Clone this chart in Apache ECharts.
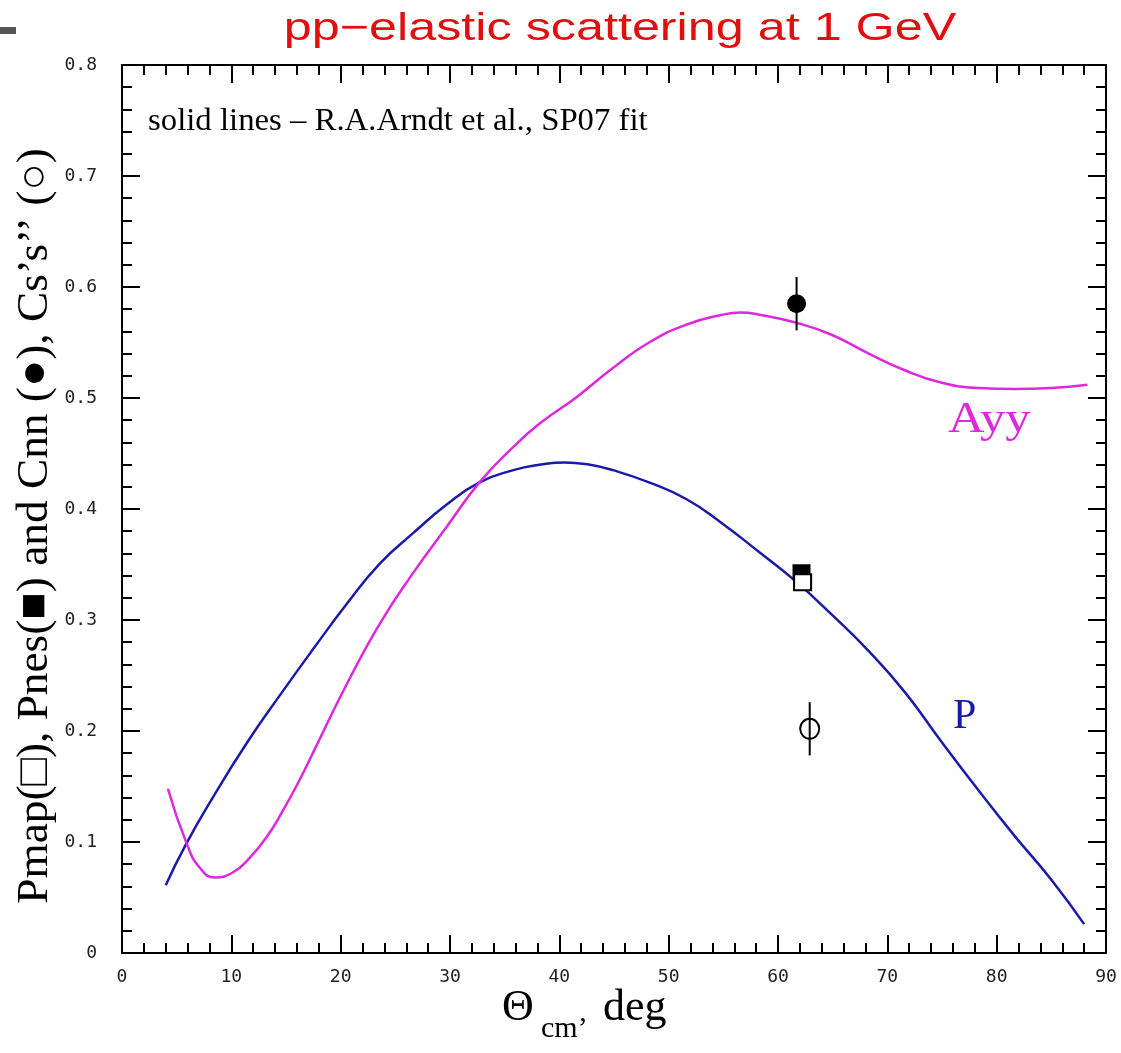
<!DOCTYPE html>
<html>
<head>
<meta charset="utf-8">
<title>pp-elastic scattering at 1 GeV</title>
<script src="https://cdn.jsdelivr.net/npm/echarts@6.0.0/dist/echarts.min.js"></script>
<style>
  html, body { margin: 0; padding: 0; background: #fff; }
  #chart { width: 1121px; height: 1053px; }
</style>
</head>
<body>
<div id="chart"></div>
<script>
// SP07 fit curves (theta_cm in deg)
const thetaP = [4.0, 5.8, 8.3, 11.4, 14.5, 17.5, 20.6, 23.6, 26.6, 29.7, 32.7, 35.8, 38.3, 40.5, 42.7,
  44.9, 48.2, 51.6, 54.9, 58.3, 61.6, 64.9, 68.3, 71.6, 74.9, 78.3, 81.6, 85.0, 88.0];
const valP = [0.061, 0.097, 0.140, 0.189, 0.233, 0.274, 0.315, 0.351, 0.378, 0.404, 0.424, 0.435, 0.440, 0.442, 0.440,
  0.435, 0.424, 0.409, 0.387, 0.361, 0.335, 0.305, 0.272, 0.235, 0.191, 0.147, 0.106, 0.066, 0.026];

const thetaAyy = [4.2, 5.9, 7.1, 8.5, 10.2, 11.7, 13.2, 14.7, 16.3, 17.5, 20.6, 23.6, 26.6, 29.7, 32.7,
  35.8, 38.2, 41.6, 44.9, 48.2, 51.6, 54.9, 56.6, 58.3, 61.6, 64.9, 68.3, 71.6, 74.9, 78.3, 81.6, 85.0, 88.3];
const valAyy = [0.148, 0.099, 0.077, 0.068, 0.073, 0.086, 0.104, 0.128, 0.157, 0.181, 0.243, 0.297, 0.342, 0.384, 0.424,
  0.456, 0.477, 0.501, 0.527, 0.550, 0.566, 0.575, 0.577, 0.575, 0.568, 0.557, 0.540, 0.525, 0.514, 0.509, 0.508, 0.509, 0.512];

// measured points: [theta, value, error]
const cnnPoint = [61.7, 0.585, 0.024];
const pnesPoint = [62.15, 0.343, 0];
const pmapPoint = [62.25, 0.334, 0];
const cssPoint = [62.9, 0.202, 0.024];

const xTicks = [0, 90, 10];
const yTicks = [0, 0.8, 0.1];

const pairs = (xs, ys) => xs.map((x, i) => [x, ys[i]]);

const AXIS_LINE = { lineStyle: { color: "#000", width: 2 } };
const AXIS_TICK = { inside: true, length: 18, lineStyle: { color: "#000", width: 2 } };
const MINOR_TICK = { show: true, splitNumber: 5, length: 10, lineStyle: { color: "#000", width: 2 } };
const TICK_FONT = { fontFamily: "DejaVu Sans Mono", fontSize: 18, color: "#222" };

const chart = echarts.init(document.getElementById("chart"));

const axisBase = (isX, position, showLabels) => ({
  type: "value",
  position: position,
  min: isX ? xTicks[0] : yTicks[0],
  max: isX ? xTicks[1] : yTicks[1],
  interval: isX ? xTicks[2] : yTicks[2],
  axisLine: { show: true, onZero: false, ...AXIS_LINE },
  axisTick: AXIS_TICK,
  minorTick: MINOR_TICK,
  splitLine: { show: false },
  axisLabel: {
    show: showLabels,
    margin: isX ? 15 : 25,
    ...TICK_FONT,
    formatter: (v) => (isX ? String(Math.round(v)) : v === 0 ? "0" : v.toFixed(1)),
  },
});

const errorBars = [cnnPoint, cssPoint].map((p) => [p[0], p[1] - p[2], p[1] + p[2]]);

const options = {
  backgroundColor: "#fff",
  animation: false,
  grid: { left: 122, top: 65, width: 984, height: 888 },
  xAxis: [axisBase(true, "bottom", true), axisBase(true, "top", false)],
  yAxis: [axisBase(false, "left", true), axisBase(false, "right", false)],
  series: [
    {
      name: "P",
      type: "line",
      data: pairs(thetaP, valP),
      smooth: 0.5,
      showSymbol: false,
      lineStyle: { color: "#1a1aaa", width: 2.5 },
      z: 2,
    },
    {
      name: "Ayy",
      type: "line",
      data: pairs(thetaAyy, valAyy),
      smooth: 0.5,
      showSymbol: false,
      lineStyle: { color: "#dd28dd", width: 2.5 },
      z: 2,
    },
    {
      name: "errors",
      type: "custom",
      data: errorBars,
      renderItem: (params, api) => {
        const p1 = api.coord([api.value(0), api.value(1)]);
        const p2 = api.coord([api.value(0), api.value(2)]);
        return {
          type: "line",
          shape: { x1: p1[0], y1: p1[1], x2: p2[0], y2: p2[1] },
          style: { stroke: "#000", lineWidth: 2 },
        };
      },
      z: 3,
    },
    {
      name: "Cnn",
      type: "scatter",
      data: [cnnPoint.slice(0, 2)],
      symbol: "circle",
      symbolSize: 19,
      itemStyle: { color: "#000", opacity: 1 },
      z: 4,
    },
    {
      name: "Pnes",
      type: "scatter",
      data: [pnesPoint.slice(0, 2)],
      symbol: "rect",
      symbolSize: [18, 16],
      itemStyle: { color: "#000", opacity: 1 },
      z: 4,
    },
    {
      name: "Pmap",
      type: "scatter",
      data: [pmapPoint.slice(0, 2)],
      symbol: "rect",
      symbolSize: [17, 16],
      itemStyle: { color: "#fff", borderColor: "#000", borderWidth: 2, opacity: 1 },
      z: 5,
    },
    {
      name: "Cs's''",
      type: "scatter",
      data: [cssPoint.slice(0, 2)],
      symbol: "circle",
      symbolSize: [19, 20],
      itemStyle: { color: "transparent", borderColor: "#000", borderWidth: 2, opacity: 1 },
      z: 4,
    },
  ],
  graphic: [
    { type: "rect", shape: { x: 0, y: 27, width: 16, height: 7 }, style: { fill: "#555" } },
    {
      type: "text",
      x: 620,
      y: 29.5,
      scaleX: 1.29,
      style: {
        text: "pp\u2212elastic scattering at 1 GeV",
        font: '39px "Liberation Sans"',
        fill: "#e01010",
        textAlign: "center",
        textVerticalAlign: "middle",
      },
    },
    {
      type: "text",
      x: 148,
      y: 122,
      scaleX: 1.057,
      style: {
        text: "solid lines \u2013 R.A.Arndt et al., SP07 fit",
        font: '31px "Liberation Serif"',
        fill: "#000",
        textAlign: "left",
        textVerticalAlign: "middle",
      },
    },
    {
      type: "text",
      x: 948,
      y: 420,
      scaleX: 1.15,
      style: { text: "Ayy", font: '44px "Liberation Serif"', fill: "#dd28dd", textAlign: "left", textVerticalAlign: "middle" },
    },
    {
      type: "text",
      x: 953,
      y: 717,
      style: { text: "P", font: '42px "Liberation Serif"', fill: "#1a1aaa", textAlign: "left", textVerticalAlign: "middle" },
    },
    {
      type: "text",
      x: 35,
      y: 526,
      rotation: Math.PI / 2,
      scaleX: 1.03,
      style: {
        text: "Pmap(\u25A1), Pnes(\u25A0) and Cnn (\u25CF), Cs\u2019s\u2019\u2019 (\u25CB)",
        font: '44px "Liberation Serif"',
        fill: "#000",
        textAlign: "center",
        textVerticalAlign: "middle",
      },
    },
    {
      type: "text",
      x: 502,
      y: 1008,
      style: { text: "\u0398", font: '44px "Liberation Serif"', fill: "#000", textAlign: "left", textVerticalAlign: "middle" },
    },
    {
      type: "text",
      x: 541,
      y: 1029,
      style: { text: "cm\u2019", font: '30px "Liberation Serif"', fill: "#000", textAlign: "left", textVerticalAlign: "middle" },
    },
    {
      type: "text",
      x: 603,
      y: 1008,
      style: { text: "deg", font: '44px "Liberation Serif"', fill: "#000", textAlign: "left", textVerticalAlign: "middle" },
    },
  ],
};

chart.setOption(options);
</script>
</body>
</html>
